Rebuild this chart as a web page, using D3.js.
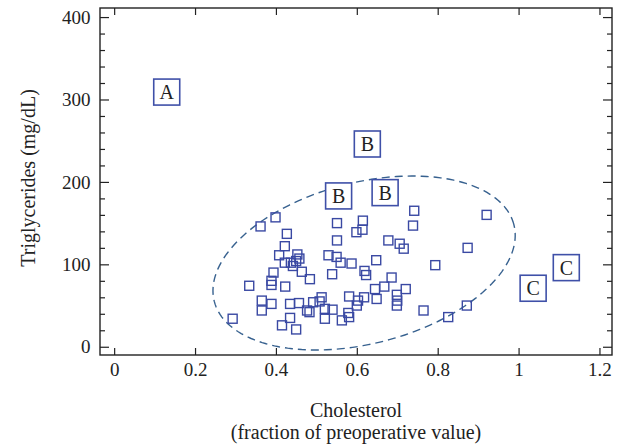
<!DOCTYPE html>
<html>
<head>
<meta charset="utf-8">
<script src="https://cdn.jsdelivr.net/npm/d3@7"></script>
<style>
  body { margin: 0; background: #fff; }
  text { font-family: "Liberation Serif", "DejaVu Serif", serif; fill: #222; }
</style>
</head>
<body>
<div id="chart"></div>
<script>
// cholesterol (fraction of preop value) vs triglycerides (mg/dL)
const cholesterol = [0.362, 0.399, 0.427, 0.422, 0.408, 0.453, 0.458, 0.422, 0.437, 0.442,
  0.450, 0.464, 0.484, 0.394, 0.389, 0.389, 0.334, 0.423, 0.365, 0.365,
  0.389, 0.435, 0.457, 0.477, 0.483, 0.492, 0.435, 0.415, 0.450, 0.293,
  0.513, 0.508, 0.521, 0.540, 0.521, 0.539, 0.551, 0.551, 0.530, 0.550,
  0.560, 0.587, 0.615, 0.599, 0.614, 0.648, 0.619, 0.623, 0.581, 0.618,
  0.603, 0.600, 0.579, 0.581, 0.563, 0.645, 0.668, 0.686, 0.649, 0.699,
  0.700, 0.699, 0.721, 0.678, 0.706, 0.716, 0.742, 0.739, 0.794, 0.874,
  0.921, 0.765, 0.826, 0.872]
const triglycerides = [146, 157, 137, 122, 111, 112, 107, 102, 102, 98,
  104, 91, 82, 90, 80, 75, 74, 73, 56, 44,
  52, 52, 53, 44, 42, 54, 35, 26, 21, 34,
  60, 55, 46, 45, 34, 88, 150, 129, 111, 109,
  102, 101, 153, 139, 142, 105, 92, 87, 61, 60,
  56, 50, 41, 36, 32, 70, 73, 84, 58, 63,
  56, 50, 70, 129, 125, 119, 165, 147, 99, 120,
  160, 44, 36, 50]

// lettered outliers
const labelText = ['A', 'B', 'B', 'B', 'C', 'C']
const labelX = [0.13, 0.626, 0.555, 0.670, 1.118, 1.036]
const labelY = [309, 246, 183, 187, 96, 71]

// dashed ellipse: centre and two semi-axis vectors, in data units
const ellCentre = [0.618, 101.6]
const ellU = [0.3704, 46.6]
const ellV = [-0.0495, 94.7]

const xTicks = [0, 0.2, 0.4, 0.6, 0.8, 1, 1.2]
const yTicks = [0, 100, 200, 300, 400]

let width = 638, height = 448
let svg = d3.select('#chart').append('svg')
  .attr('width', width).attr('height', height)

let x = d3.scaleLinear().domain([-0.035, 1.231]).range([100, 612])
let y = d3.scaleLinear().domain([-10, 411]).range([355, 8])

let minorY = d3.range(0, 401, 20).filter(d => d % 100 !== 0)

// axes, ticks pointing inwards on all four sides
svg.append('g').attr('transform', 'translate(0,355)')
  .call(d3.axisBottom(x).tickValues(xTicks).tickSize(-7).tickPadding(7.5)
    .tickFormat(d3.format('~g')))
svg.append('g').attr('transform', 'translate(0,8)')
  .call(d3.axisTop(x).tickValues(xTicks).tickSize(-7).tickFormat(''))
svg.append('g').attr('transform', 'translate(100,0)')
  .call(d3.axisLeft(y).tickValues(yTicks).tickSize(-9).tickPadding(9.5))
svg.append('g').attr('transform', 'translate(100,0)')
  .call(d3.axisLeft(y).tickValues(minorY).tickSize(-5).tickFormat(''))
svg.append('g').attr('transform', 'translate(612,0)')
  .call(d3.axisRight(y).tickValues(yTicks).tickSize(-9).tickFormat(''))
svg.append('g').attr('transform', 'translate(612,0)')
  .call(d3.axisRight(y).tickValues(minorY).tickSize(-5).tickFormat(''))

svg.selectAll('.domain').remove()
svg.selectAll('.tick line').attr('stroke', '#222').attr('stroke-width', 1.2)
svg.selectAll('.tick text').style('font-size', '19px').attr('fill', '#222')
  .style('font-family', '"Liberation Serif", serif')

svg.append('rect')
  .attr('x', 100).attr('y', 8).attr('width', 512).attr('height', 347)
  .attr('fill', 'none').attr('stroke', '#222').attr('stroke-width', 1.4)

// ellipse
let tt = d3.range(0, 2 * Math.PI + 0.001, Math.PI / 90)
let ellPts = tt.map(t => [
  x(ellCentre[0] + Math.cos(t) * ellU[0] + Math.sin(t) * ellV[0]),
  y(ellCentre[1] + Math.cos(t) * ellU[1] + Math.sin(t) * ellV[1])])
svg.append('path')
  .attr('d', d3.line()(ellPts))
  .attr('fill', 'none')
  .attr('stroke', '#37618f')
  .attr('stroke-width', 1.4)
  .attr('stroke-dasharray', '8,5')

// data squares
let s = 9
svg.selectAll('rect.pt')
  .data(cholesterol)
  .enter()
  .append('rect')
  .attr('class', 'pt')
  .attr('x', (d, i) => x(d) - s / 2)
  .attr('y', (d, i) => y(triglycerides[i]) - s / 2)
  .attr('width', s).attr('height', s)
  .attr('fill', 'none')
  .attr('stroke', '#3a49a3')
  .attr('stroke-width', 1.4)

// letter boxes
let b = 26
let lab = svg.selectAll('g.lab')
  .data(labelText)
  .enter()
  .append('g')
  .attr('class', 'lab')
  .attr('transform', (d, i) => `translate(${x(labelX[i])},${y(labelY[i])})`)
lab.append('rect')
  .attr('x', -b / 2).attr('y', -b / 2).attr('width', b).attr('height', b)
  .attr('fill', '#fff').attr('stroke', '#3f50a8').attr('stroke-width', 1.6)
lab.append('text')
  .attr('text-anchor', 'middle').attr('y', 7)
  .style('font-size', '20px').attr('fill', '#111')
  .text(d => d)

// titles
svg.append('text')
  .attr('x', 356).attr('y', 417)
  .attr('text-anchor', 'middle').style('font-size', '20px')
  .text('Cholesterol')
svg.append('text')
  .attr('x', 356).attr('y', 439)
  .attr('text-anchor', 'middle').style('font-size', '20px')
  .text('(fraction of preoperative value)')
svg.append('text')
  .attr('transform', 'translate(35,178) rotate(-90)')
  .attr('text-anchor', 'middle').style('font-size', '20px')
  .text('Triglycerides (mg/dL)')
</script>
</body>
</html>
